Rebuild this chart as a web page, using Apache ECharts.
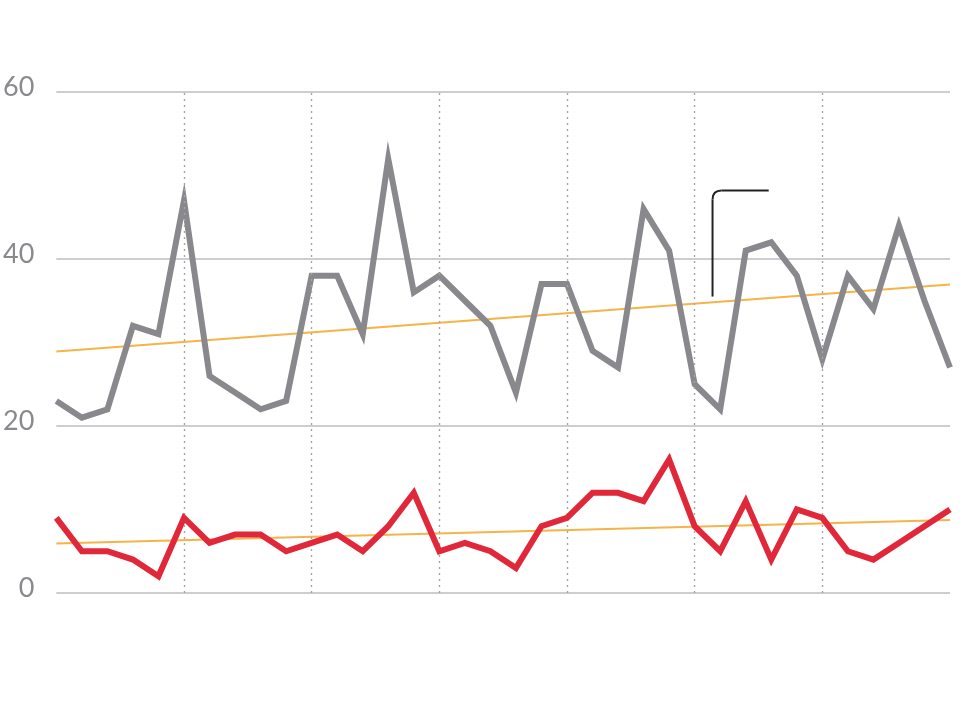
<!DOCTYPE html>
<html>
<head>
<meta charset="utf-8">
<script src="https://cdn.jsdelivr.net/npm/echarts@6/dist/echarts.min.js"></script>
<style>
html,body{margin:0;padding:0;background:#fff;}
#chart{width:980px;height:702px;}
</style>
</head>
<body>
<div id="chart"></div>
<script>
// ---- data ----
const indices = Array.from({length: 36}, (_, i) => i);
const grayValues = [23,21,22,32,31,47,26,24,22,23,38,38,31,52,36,38,35,32,24,37,37,29,27,46,41,25,22,41,42,38,28,38,34,44,35,27];
const redValues  = [9,5,5,4,2,9,6,7,7,5,6,7,5,8,12,5,6,5,3,8,9,12,12,11,16,8,5,11,4,10,9,5,4,6,8,10];
const yTicks = [0, 20, 40, 60];
const dividerIndices = [5, 10, 15, 20, 25, 30];
// annotation callout anchor: [x index, y value] for bottom, corner, end
const calloutPoints = [[25.7, 35.5], [25.7, 48.2], [27.9, 48.2]];

function trend(vals) {
  const n = vals.length;
  const mx = (n - 1) / 2;
  const my = vals.reduce((a, b) => a + b, 0) / n;
  let sxy = 0, sxx = 0;
  vals.forEach((v, i) => { sxy += (i - mx) * (v - my); sxx += (i - mx) * (i - mx); });
  const b = sxy / sxx, a = my - b * mx;
  return [[0, a], [n - 1, a + b * (n - 1)]];
}

const chart = echarts.init(document.getElementById('chart'), null, {renderer: 'canvas'});
const pairs = vals => vals.map((v, i) => [indices[i], v]);

const option = {
  animation: false,
  backgroundColor: '#ffffff',
  grid: {left: 55, right: 30, top: 92, bottom: 109, containLabel: false},
  xAxis: {
    type: 'value', min: 0, max: 35, interval: 5,
    axisLine: {show: false}, axisTick: {show: false}, axisLabel: {show: false},
    splitLine: {show: false}
  },
  yAxis: {
    type: 'value', min: yTicks[0], max: yTicks[yTicks.length - 1], interval: 20,
    axisLine: {show: false}, axisTick: {show: false},
    axisLabel: {
      color: '#8a8a8e', fontSize: 27, fontFamily: 'Lato, "Open Sans", sans-serif',
      margin: 22, verticalAlign: 'bottom', lineHeight: 10
    },
    splitLine: {show: true, lineStyle: {color: '#bdbec2', width: 1.5}}
  },
  series: [
    {
      type: 'line', data: trend(grayValues), symbol: 'none', silent: true,
      lineStyle: {color: '#f6b347', width: 2}, z: 3,
      markLine: {
        silent: true, symbol: 'none', label: {show: false},
        lineStyle: {color: '#a4a5a9', type: [2, 4], width: 1.4},
        data: dividerIndices.map(x => ({xAxis: x}))
      }
    },
    {
      type: 'line', data: trend(redValues), symbol: 'none', silent: true,
      lineStyle: {color: '#f6b347', width: 2}, z: 3
    },
    {
      type: 'line', data: pairs(grayValues), symbol: 'none',
      lineStyle: {color: '#88888d', width: 6, join: 'miter'}, z: 4
    },
    {
      type: 'line', data: pairs(redValues), symbol: 'none',
      lineStyle: {color: '#e0283a', width: 6, join: 'miter'}, z: 5
    }
  ]
};
chart.setOption(option);

const p = calloutPoints.map(pt => chart.convertToPixel({gridIndex: 0}, pt));
const r = 9;
const stroke = {stroke: '#222222', lineWidth: 2, fill: null};
chart.setOption({
  graphic: [
    {type: 'line', z: 10, shape: {x1: p[0][0], y1: p[0][1], x2: p[1][0], y2: p[1][1] + r}, style: stroke},
    {type: 'bezierCurve', z: 10, shape: {x1: p[1][0], y1: p[1][1] + r, cpx1: p[1][0], cpy1: p[1][1], x2: p[1][0] + r, y2: p[1][1]}, style: stroke},
    {type: 'line', z: 10, shape: {x1: p[1][0] + r, y1: p[1][1], x2: p[2][0], y2: p[2][1]}, style: stroke}
  ]
});
</script>
</body>
</html>
